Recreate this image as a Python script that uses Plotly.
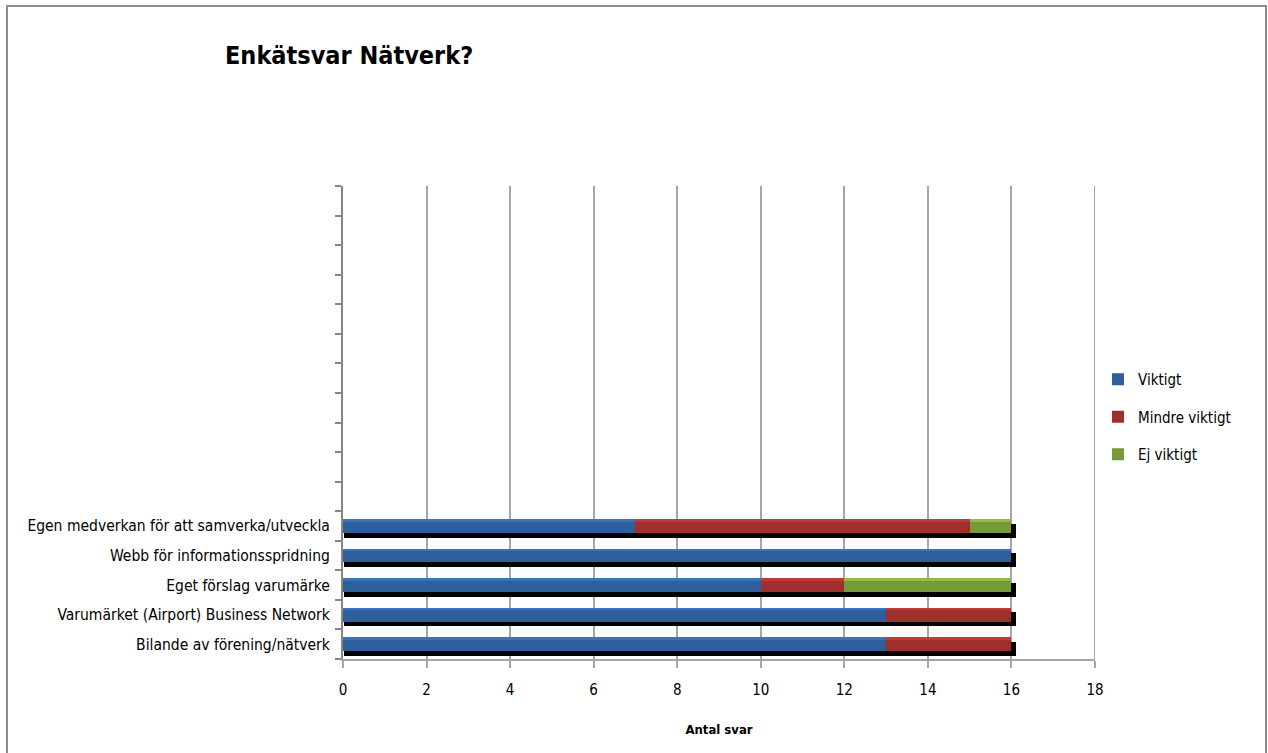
import plotly.graph_objects as go

categories = [
    "Bilande av förening/nätverk",
    "Varumärket (Airport) Business Network",
    "Eget förslag varumärke",
    "Webb för informationsspridning",
    "Egen medverkan för att samverka/utveckla",
]
n_slots = 16  # total category slots on the axis (11 empty ones above)
viktigt = [13, 13, 10, 16, 7]
mindre_viktigt = [3, 3, 2, 0, 8]
ej_viktigt = [0, 0, 4, 0, 1]
x_ticks = [0, 2, 4, 6, 8, 10, 12, 14, 16, 18]

FONT = "DejaVu Sans Condensed, Liberation Sans Narrow, sans-serif"
BLUE, BLUE_HI = "#2E5E9B", "#3C78C6"
RED, RED_HI = "#9E2F2D", "#C43F3C"
GREEN, GREEN_HI = "#779A38", "#98C24A"

ys = list(range(len(categories)))
totals = [a + b + c for a, b, c in zip(viktigt, mindre_viktigt, ej_viktigt)]
base_m = viktigt
base_e = [a + b for a, b in zip(viktigt, mindre_viktigt)]

BW = 0.47
fig = go.Figure()

# shadow
fig.add_trace(go.Bar(
    y=[y - 0.16 for y in ys], x=[t + 0.07 for t in totals], base=[0.03] * len(ys),
    orientation="h", width=BW, marker=dict(color="black", line_width=0),
    showlegend=False, hoverinfo="skip"))

series = [
    ("Viktigt", viktigt, [0] * len(ys), BLUE, BLUE_HI),
    ("Mindre viktigt", mindre_viktigt, base_m, RED, RED_HI),
    ("Ej viktigt", ej_viktigt, base_e, GREEN, GREEN_HI),
]
for i, (name, vals, base, col, hi) in enumerate(series):
    fig.add_trace(go.Bar(
        y=ys, x=vals, base=base, orientation="h", width=BW, name=name,
        legendgroup=name, marker=dict(color=col, line_width=0)))
    fig.add_trace(go.Bar(
        y=[y + BW / 2 - 0.045 for y in ys], x=vals, base=base, orientation="h",
        width=0.09, marker=dict(color=hi, line_width=0), opacity=0.8,
        showlegend=False, legendgroup=name, hoverinfo="skip"))

L, R, T, B = 343, 1095, 186, 659
W, H = 1268, 753
def px_x(p):
    return (p - L) / (R - L)
def px_y(p):
    return (B - p) / (B - T)

fig.add_shape(type="rect", xref="paper", yref="paper",
              x0=px_x(7), x1=px_x(1266), y0=px_y(800), y1=px_y(6),
              line=dict(color="#8C8C8C", width=2), fillcolor="rgba(0,0,0,0)", layer="below")
fig.add_shape(type="line", xref="x", yref="paper", x0=18, x1=18, y0=0, y1=1,
              line=dict(color="#A6A6A6", width=2), layer="below")

fig.update_layout(
    width=W, height=H,
    barmode="overlay",
    bargap=0,
    paper_bgcolor="white", plot_bgcolor="white",
    margin=dict(l=L, r=W - R, t=T, b=H - B, pad=0),
    font=dict(family=FONT, size=15, color="black"),
    title=dict(text="<b>Enkätsvar Nätverk?</b>", font=dict(family=FONT, size=25, color="black"),
               x=225 / W, xanchor="left", xref="container",
               y=1 - 55 / H, yanchor="middle", yref="container"),
    legend=dict(x=px_x(1098), y=px_y(417), xanchor="left", yanchor="middle",
                font=dict(family=FONT, size=15, color="black"),
                traceorder="grouped", tracegroupgap=15, itemwidth=30,
                bgcolor="rgba(0,0,0,0)"),
    xaxis=dict(range=[0, 18], tickvals=x_ticks, showgrid=True, gridcolor="#A6A6A6",
               gridwidth=2, zeroline=False, showline=True, linecolor="#A6A6A6", linewidth=2,
               ticks="outside", ticklen=7, tickcolor="#A6A6A6", tickwidth=2,
               ticklabelstandoff=9,
               tickfont=dict(family=FONT, size=15, color="black"),
               title=dict(text="<b>Antal svar</b>", font=dict(family=FONT, size=13, color="black"),
                          standoff=27)),
    yaxis=dict(range=[-0.5, n_slots - 0.5], tickvals=ys, ticktext=categories, ticks="",
               showgrid=False, zeroline=False, showline=True, linecolor="#868686", linewidth=2,
               tickfont=dict(family=FONT, size=15.5, color="black"), ticklabelstandoff=8,
               minor=dict(tickvals=[k - 0.5 for k in range(n_slots + 1)], ticks="outside",
                          ticklen=6, tickcolor="#868686", tickwidth=2, showgrid=False)),
)

fig.write_html("out.html", config={"displayModeBar": False},
               post_script="document.body.style.margin='0px';")
